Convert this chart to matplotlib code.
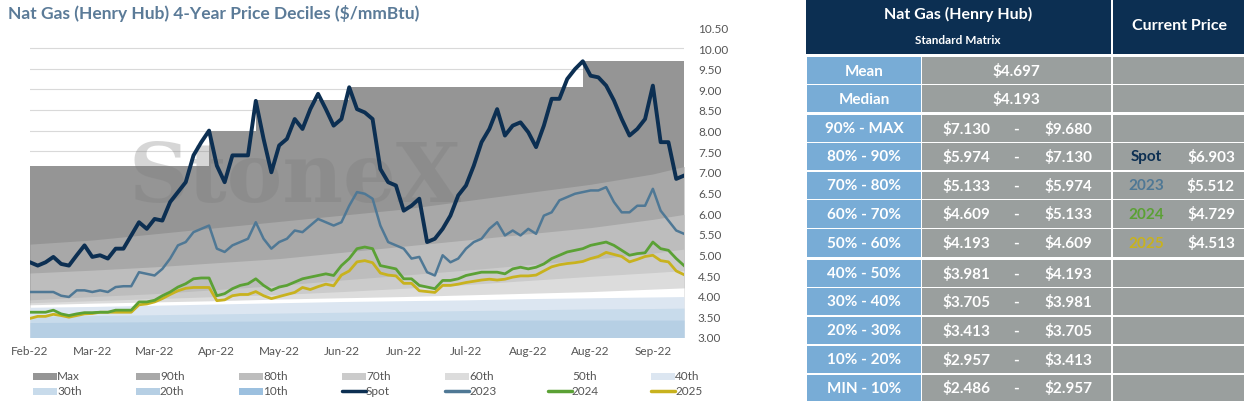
import matplotlib
matplotlib.use("Agg")
import matplotlib.pyplot as plt
from matplotlib.patches import Rectangle
from matplotlib.lines import Line2D
import numpy as np

plt.rcParams['font.family'] = ['Lato', 'DejaVu Sans']

# ---- data ----
x_labels = ["Feb-22", "Mar-22", "Mar-22", "Apr-22", "May-22", "Jun-22",
            "Jun-22", "Jul-22", "Aug-22", "Aug-22", "Sep-22"]

spot = [4.81, 4.73, 4.81, 4.94, 4.77, 4.73, 4.98, 5.22, 4.94, 4.98,
        4.9, 5.14, 5.14, 5.46, 5.78, 5.62, 5.86, 5.82, 6.27, 6.51,
        6.75, 7.4, 7.72, 8.0, 7.15, 6.75, 7.4, 7.4, 7.4, 8.72,
        7.8, 6.99, 7.64, 7.8, 8.28, 8.04, 8.52, 8.89, 8.52, 8.12,
        8.28, 9.05, 8.52, 8.44, 8.28, 7.07, 6.75, 6.67, 6.06, 6.18,
        6.35, 5.3, 5.38, 5.62, 5.94, 6.43, 6.67, 7.15, 7.72, 8.04,
        8.52, 7.88, 8.12, 8.2, 7.96, 7.6, 8.12, 8.77, 8.77, 9.25,
        9.49, 9.68, 9.33, 9.29, 9.09, 8.73, 8.28, 7.88, 8.04, 8.28,
        9.09, 7.72, 7.72, 6.83, 6.91]
y2023 = [4.09, 4.09, 4.09, 4.09, 4.0, 3.97, 4.13, 4.13, 4.09, 4.13,
         4.09, 4.21, 4.23, 4.23, 4.57, 4.53, 4.49, 4.65, 4.9, 5.22,
         5.3, 5.54, 5.62, 5.7, 5.14, 5.06, 5.22, 5.3, 5.38, 5.78,
         5.38, 5.14, 5.3, 5.38, 5.58, 5.54, 5.7, 5.86, 5.78, 5.7,
         5.78, 6.18, 6.51, 6.47, 6.35, 5.7, 5.3, 5.22, 5.14, 4.9,
         4.94, 4.57, 4.49, 4.98, 4.81, 4.9, 5.14, 5.3, 5.38, 5.62,
         5.78, 5.46, 5.58, 5.46, 5.62, 5.5, 5.94, 6.02, 6.31, 6.39,
         6.47, 6.51, 6.55, 6.55, 6.63, 6.27, 6.02, 6.02, 6.18, 6.18,
         6.59, 6.06, 5.82, 5.58, 5.5]
y2024 = [3.6, 3.6, 3.6, 3.65, 3.56, 3.52, 3.56, 3.59, 3.59, 3.6,
         3.6, 3.65, 3.65, 3.65, 3.85, 3.85, 3.89, 4.0, 4.09, 4.21,
         4.29, 4.41, 4.43, 4.43, 4.0, 4.05, 4.17, 4.25, 4.29, 4.41,
         4.25, 4.13, 4.21, 4.25, 4.33, 4.41, 4.45, 4.49, 4.53, 4.49,
         4.73, 4.9, 5.14, 5.18, 5.14, 4.73, 4.69, 4.65, 4.41, 4.41,
         4.25, 4.21, 4.17, 4.37, 4.37, 4.41, 4.49, 4.53, 4.57, 4.57,
         4.57, 4.53, 4.65, 4.69, 4.65, 4.69, 4.77, 4.9, 4.98, 5.06,
         5.1, 5.14, 5.22, 5.26, 5.3, 5.22, 5.1, 4.98, 5.02, 5.04,
         5.3, 5.14, 5.1, 4.9, 4.73]
y2025 = [3.45, 3.5, 3.5, 3.55, 3.52, 3.48, 3.52, 3.56, 3.57, 3.6,
         3.6, 3.6, 3.6, 3.6, 3.78, 3.8, 3.85, 3.93, 4.03, 4.12,
         4.18, 4.2, 4.2, 4.2, 3.88, 3.9, 4.0, 4.03, 4.03, 4.1,
         4.0, 3.93, 3.98, 4.03, 4.08, 4.2, 4.15, 4.22, 4.28, 4.24,
         4.5, 4.6, 4.82, 4.85, 4.8, 4.55, 4.5, 4.48, 4.3, 4.3,
         4.12, 4.1, 4.08, 4.25, 4.25, 4.28, 4.32, 4.35, 4.38, 4.4,
         4.38, 4.4, 4.45, 4.48, 4.48, 4.5, 4.6, 4.7, 4.75, 4.78,
         4.8, 4.83, 4.9, 4.95, 5.05, 5.0, 4.95, 4.82, 4.88, 4.95,
         4.98, 4.85, 4.82, 4.6, 4.51]
max_vals = [7.15] * 23 + [8.0] * 6 + [8.75] * 12 + [9.05] * 30 + [9.68] * 14

# decile boundaries sampled at each tick and at the last day
dec_x = [0, 8, 16, 24, 32, 40, 48, 56, 64, 72, 80, 84]
p90 = [5.25, 5.35, 5.5, 5.65, 5.8, 5.95, 6.1, 6.3, 6.5, 6.7, 6.95, 7.13]
p80 = [4.55, 4.62, 4.7, 4.8, 4.9, 5.05, 5.2, 5.35, 5.5, 5.65, 5.85, 5.97]
p70 = [3.9, 3.98, 4.05, 4.15, 4.25, 4.38, 4.5, 4.62, 4.75, 4.88, 5.03, 5.13]
p60 = [3.83, 3.88, 3.93, 3.98, 4.03, 4.1, 4.18, 4.27, 4.37, 4.47, 4.56, 4.61]
p50 = [3.78, 3.82, 3.85, 3.88, 3.92, 3.95, 3.98, 4.02, 4.06, 4.1, 4.16, 4.19]
p40 = [3.72, 3.74, 3.77, 3.8, 3.83, 3.86, 3.88, 3.9, 3.93, 3.95, 3.97, 3.98]
p30 = [3.5, 3.52, 3.54, 3.56, 3.58, 3.6, 3.62, 3.64, 3.66, 3.68, 3.69, 3.7]
p20 = [3.35, 3.36, 3.37, 3.38, 3.39, 3.4, 3.4, 3.41, 3.41, 3.41, 3.41, 3.41]

table_labels = ["Mean", "Median", "90% - MAX", "80% - 90%", "70% - 80%", "60% - 70%",
                "50% - 60%", "40% - 50%", "30% - 40%", "20% - 30%", "10% - 20%", "MIN - 10%"]
table_lo = ["$4.697", "$4.193", "$7.130", "$5.974", "$5.133", "$4.609", "$4.193",
            "$3.981", "$3.705", "$3.413", "$2.957", "$2.486"]
table_hi = [None, None, "$9.680", "$7.130", "$5.974", "$5.133", "$4.609",
            "$4.193", "$3.981", "$3.705", "$3.413", "$2.957"]
current_names = ["Spot", "2023", "2024", "2025"]
current_vals = ["$6.903", "$5.512", "$4.729", "$4.513"]

# ---- colours ----
NAVY = "#0c2f52"
C2023 = "#4f7895"
C2024 = "#5ba135"
C2025 = "#c8b21e"
band_cols = {"Max": "#959595", "90th": "#a8a8a8", "80th": "#bdbdbd", "70th": "#cbcbcb",
             "60th": "#dcdcdc", "50th": "#ffffff", "40th": "#dce6f1", "30th": "#c8dbeb",
             "20th": "#b6cfe4", "10th": "#9cc0df"}

W, H = 1244, 402
fig = plt.figure(figsize=(W / 100, H / 100), dpi=100)
fig.patch.set_facecolor("white")

ax = fig.add_axes([30 / W, (H - 338) / H, (684 - 30) / W, (338 - 28.4) / H])
xs = np.arange(len(spot))

# max band drawn down to the bottom, lower bands overlay it
ax.fill_between(xs, 3.0, max_vals, color=band_cols["Max"], lw=0, step="post")
uppers = [(p90, "90th"), (p80, "80th"), (p70, "70th"), (p60, "60th"),
          (p50, "50th"), (p40, "40th"), (p30, "30th"), (p20, "20th")]
for hi, name in uppers:
    ax.fill_between(dec_x, 2.9, hi, color=band_cols[name], lw=0)

for y in np.arange(3.5, 10.01, 0.5):
    ax.axhline(y, color="#d9d9d9", lw=0.8, zorder=0.5)

ax.text(34, 6.85, "StoneX", fontsize=60, family="DejaVu Serif", fontweight="bold",
        color="#7a7a7a", alpha=0.3, ha="center", va="center", zorder=1)

ax.plot(xs, y2025, color=C2025, lw=2, zorder=3)
ax.plot(xs, y2024, color=C2024, lw=2, zorder=3)
ax.plot(xs, y2023, color=C2023, lw=1.8, zorder=3)
ax.plot(xs, spot, color=NAVY, lw=2.8, zorder=4)

ax.set_xlim(0, 84)
ax.set_ylim(3.0, 10.5)
ax.set_yticks(np.arange(3.0, 10.51, 0.5))
ax.set_yticklabels([f"{v:.2f}" for v in np.arange(3.0, 10.51, 0.5)])
ax.yaxis.tick_right()
ax.set_xticks(np.arange(0, 81, 8))
ax.set_xticklabels(x_labels)
ax.tick_params(length=0, labelsize=8.5, colors="#555555", pad=6)
ax.tick_params(axis="y", pad=10)
for s in ax.spines.values():
    s.set_visible(False)
ax.set_facecolor("white")

fig.text(8 / W, 1 - 13 / H, "Nat Gas (Henry Hub) 4-Year Price Deciles ($/mmBtu)",
         fontsize=12.5, fontweight="bold", color="#5b7b98", va="center")

# ---- legend (manual) ----
ov = fig.add_axes([0, 0, 1, 1])
ov.set_xlim(0, W)
ov.set_ylim(H, 0)
ov.axis("off")
leg_items = [("Max", "p"), ("90th", "p"), ("80th", "p"), ("70th", "p"), ("60th", "p"),
             ("50th", "p"), ("40th", "p"), ("30th", "p"), ("20th", "p"), ("10th", "p"),
             ("Spot", NAVY), ("2023", C2023), ("2024", C2024), ("2025", C2025)]
for i, (name, kind) in enumerate(leg_items):
    col, row = i % 7, i // 7
    x0 = 33 + col * 103
    y0 = 377 + row * 15
    if kind == "p":
        if name != "50th":
            ov.add_patch(Rectangle((x0, y0 - 3.5), 24, 7, color=band_cols[name], lw=0))
    else:
        ov.add_line(Line2D([x0, x0 + 24], [y0, y0], color=kind, lw=2.5,
                           solid_capstyle="round"))
    ov.text(x0 + 24, y0, name, fontsize=8.5, color="#555555", va="center")

# ---- table ----
LBLUE = "#78acd6"
GREY = "#9a9f9e"
ov.add_patch(Rectangle((806, 0), 305, 55, color=NAVY, lw=0))
ov.add_patch(Rectangle((1113, 0), 131, 55, color=NAVY, lw=0))
ov.text(958, 14, "Nat Gas (Henry Hub)", color="white", fontsize=11.5, fontweight="bold",
        ha="center", va="center")
ov.text(958, 41, "Standard Matrix", color="white", fontsize=8.5, fontweight="bold",
        ha="center", va="center")
ov.text(1179, 26, "Current Price", color="white", fontsize=11.5, fontweight="bold",
        ha="center", va="center")

row_tops = [58, 86, 116, 144, 173, 201, 230, 261, 289, 318, 347, 376]
row_h = [27, 27, 27, 27, 27, 28, 28, 27, 27, 27, 27, 26]
for i, lab in enumerate(table_labels):
    t, h = row_tops[i], row_h[i]
    yc = t + h / 2
    ov.add_patch(Rectangle((807, t), 114, h, color=LBLUE, lw=0))
    ov.add_patch(Rectangle((922, t), 189, h, color=GREY, lw=0))
    ov.add_patch(Rectangle((1113, t), 131, h, color=GREY, lw=0))
    ov.text(864, yc, lab, color="white", fontsize=11, fontweight="bold",
            ha="center", va="center")
    if table_hi[i] is None:
        ov.text(1016, yc, table_lo[i], color="white", fontsize=11, fontweight="bold",
                ha="center", va="center")
    else:
        ov.text(966, yc, table_lo[i], color="white", fontsize=11, fontweight="bold",
                ha="center", va="center")
        ov.text(1016, yc, "-", color="white", fontsize=11, fontweight="bold",
                ha="center", va="center")
        ov.text(1068, yc, table_hi[i], color="white", fontsize=11, fontweight="bold",
                ha="center", va="center")

name_cols = [NAVY, C2023, C2024, C2025]
for j, (nm, val) in enumerate(zip(current_names, current_vals)):
    yc = row_tops[3 + j] + row_h[3 + j] / 2
    ov.text(1146, yc, nm, color=name_cols[j], fontsize=11, fontweight="bold",
            ha="center", va="center")
    ov.text(1211, yc, val, color="white", fontsize=11, fontweight="bold",
            ha="center", va="center")

fig.savefig("out.png", dpi=100)
